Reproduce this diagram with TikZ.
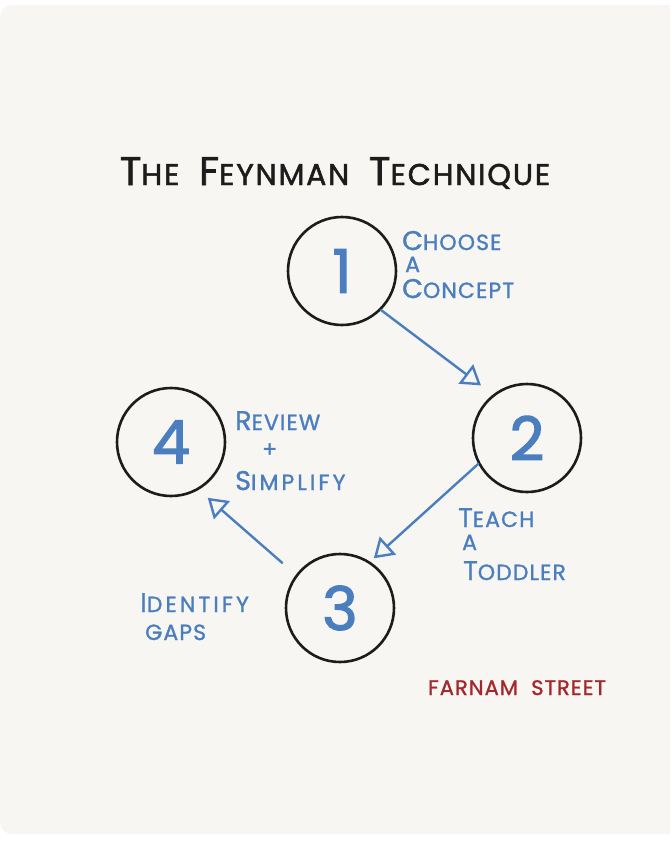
\documentclass[tikz,border=0pt]{standalone}
\usepackage{fontspec}
\newfontfamily\hand{Poppins}[LetterSpace=5,FakeBold=1.2]
\newfontfamily\handwide{Poppins}[LetterSpace=14,FakeBold=1.2]
\newfontfamily\titlef{Poppins}[LetterSpace=6,FakeBold=1.6]
\newfontfamily\numf{Poppins}[FakeBold=2.2]
\usetikzlibrary{arrows.meta}
\definecolor{paper}{HTML}{F7F6F2}
\definecolor{ink}{HTML}{4A7EBF}
\definecolor{pen}{HTML}{1C1C1C}
\definecolor{brick}{HTML}{A3282B}
\newcommand\fl[1]{{\fontsize{27}{27}\selectfont #1}}
\newcommand\tb[1]{{\fontsize{40}{40}\selectfont #1}}
\begin{document}
\begin{tikzpicture}[x=1pt,y=-1pt,
  stepcircle/.style={circle,draw=pen,line width=2.6pt,minimum size=108pt,inner sep=0pt,text=ink,font=\numf\fontsize{60}{60}\selectfont},
  lbl/.style={anchor=base west,inner sep=0pt,text=ink,font=\hand\fontsize{22}{22}\selectfont},
  arr/.style={draw=ink,line width=2.4pt,line cap=round,-{Triangle[open,length=19pt,width=24pt,line width=2.4pt]}}
]
\clip (0,0) rectangle (670,841);
\fill[white] (0,0) rectangle (670,841);
\fill[paper,rounded corners=12pt] (0,5) rectangle (700,834);

\node[anchor=base,inner sep=0pt,text=pen,font=\titlef\fontsize{30}{30}\selectfont] (title) at (335,185) {\tb{T}HE\ \ \tb{F}EYNMAN\ \ \tb{T}ECHNIQUE};

\node[stepcircle] (c1) at (342,271) {1};
\node[stepcircle] (c2) at (527,438) {2};
\node[stepcircle] (c3) at (340,608) {3};
\node[stepcircle] (c4) at (171,442) {4};

\node[lbl] (l1a) at (402,250) {\fl{C}HOOSE};
\node[lbl] (l1b) at (405,272) {A};
\node[lbl] (l1c) at (402,298) {\fl{C}ONCEPT};

\node[lbl] (l2a) at (458,527) {\fl{T}EACH};
\node[lbl] (l2b) at (462,550) {A};
\node[lbl] (l2c) at (463,580) {\fl{T}ODDLER};

\node[lbl,font=\handwide\fontsize{22}{22}\selectfont] (l3a) at (140,612) {\fl{I}DENTIFY};
\node[lbl] (l3b) at (145,640) {GAPS};

\node[lbl] (l4a) at (235,430) {\fl{R}EVIEW};
\node[lbl] (l4b) at (262,457) {+};
\node[lbl,font=\handwide\fontsize{22}{22}\selectfont] (l4c) at (235,490) {\fl{S}IMPLIFY};

\node[lbl,text=brick,font=\hand\fontsize{21}{21}\selectfont] (brand) at (428,695) {FARNAM\ \ STREET};

\draw[arr,shorten >=15pt] (c1.-45) -- (c2.128);
\draw[arr,shorten >=5pt] (c2.208) -- (c3.57);
\draw[arr,shorten <=18pt,shorten >=12pt] (c3.143) -- (c4.-60);
\end{tikzpicture}
\end{document}
